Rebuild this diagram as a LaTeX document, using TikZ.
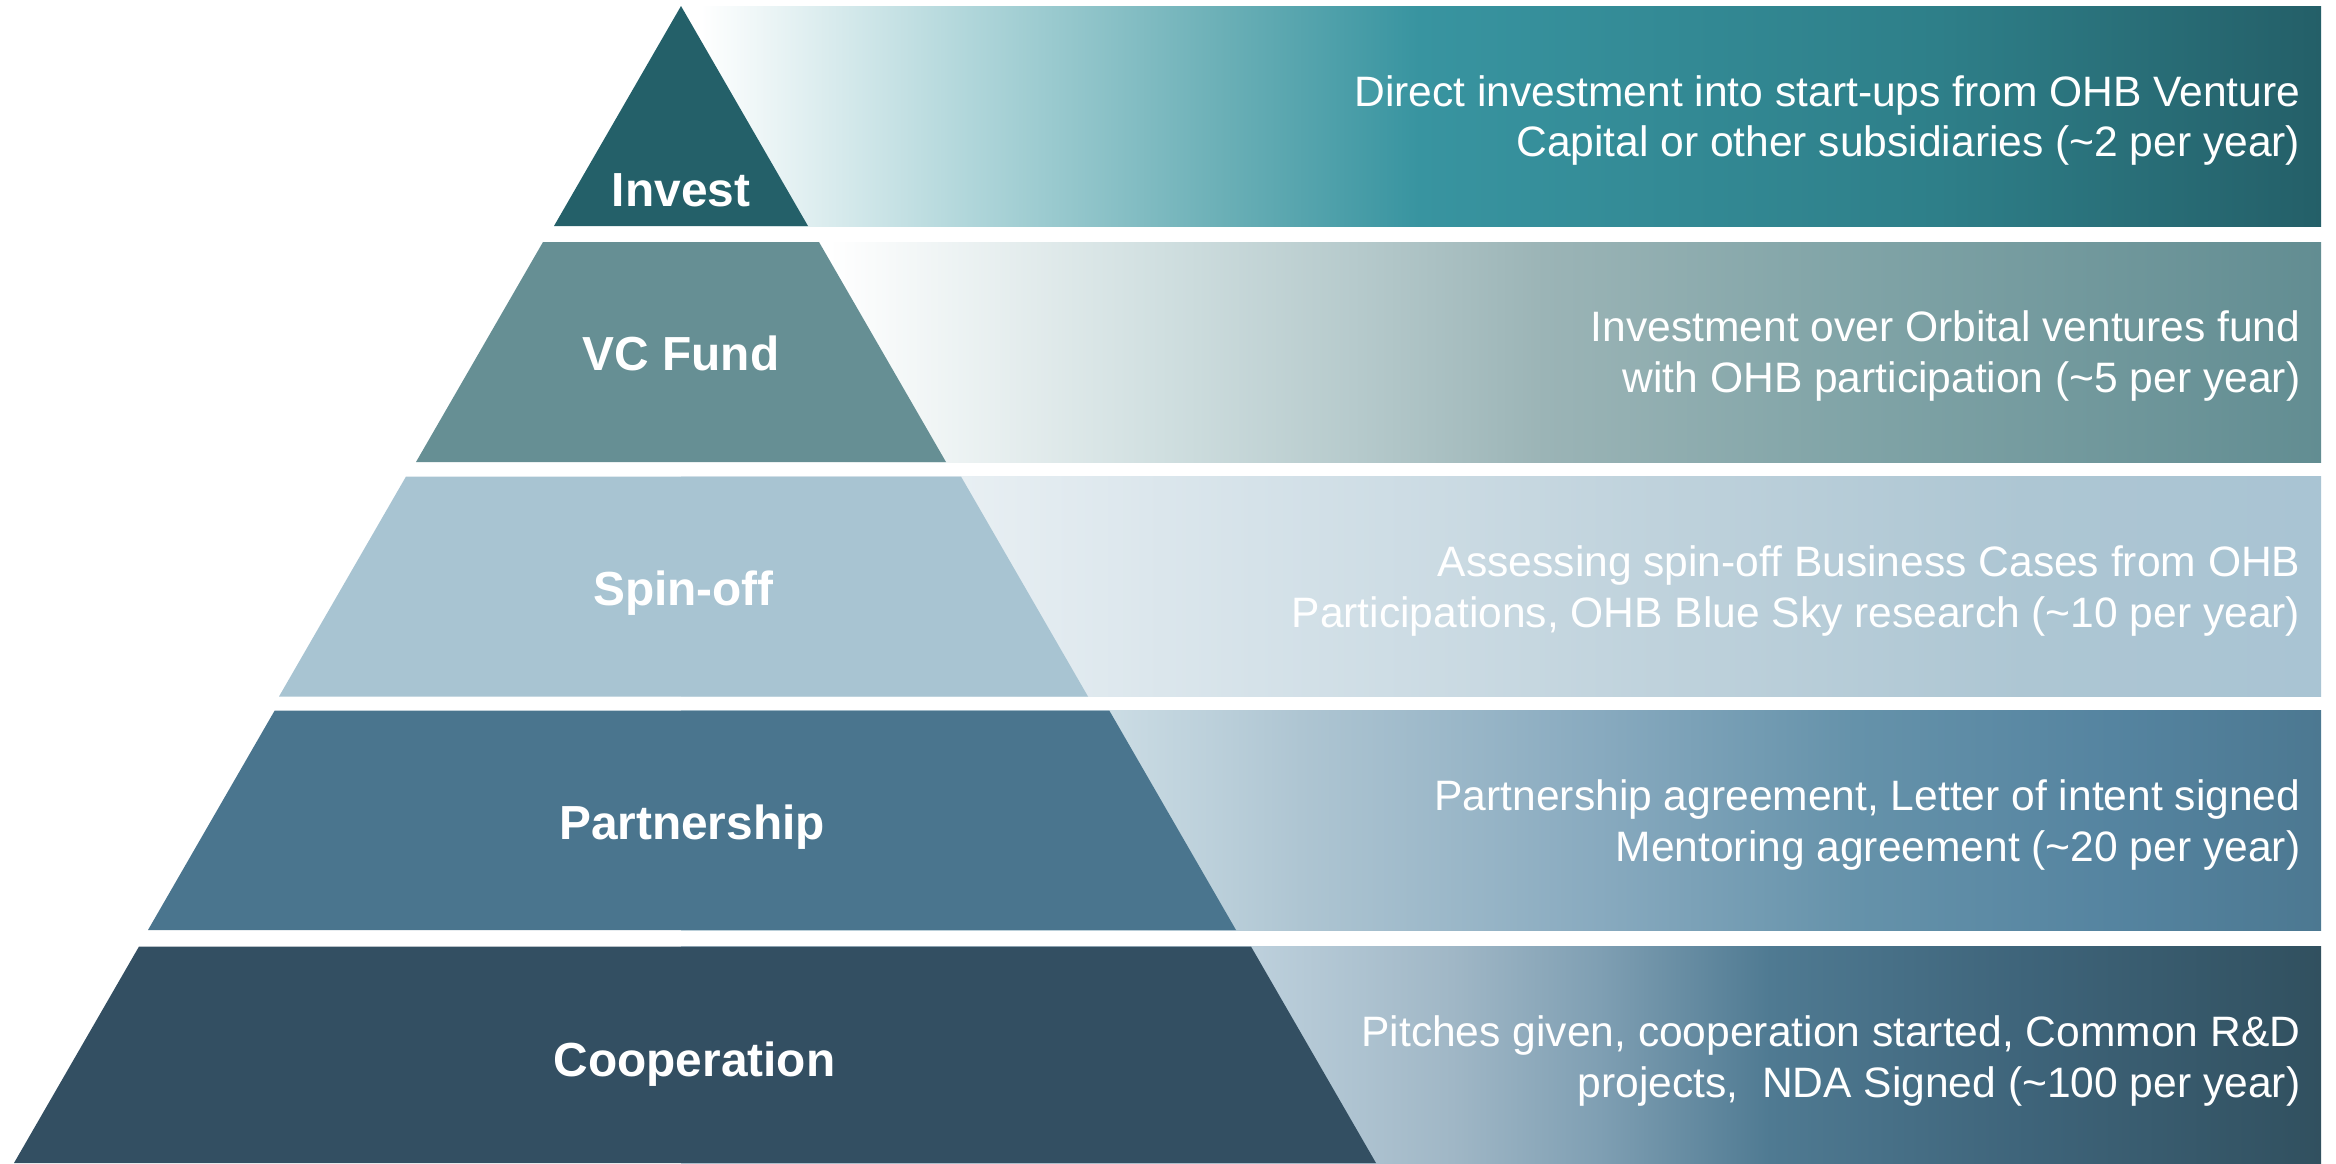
\documentclass[tikz,border=0pt]{standalone}
\usepackage{fontspec}
\setmainfont{Liberation Sans}
\newcommand{\mytilde}{\textasciitilde}
% pyramid colours
\definecolor{pA}{HTML}{246069}
\definecolor{pB}{HTML}{668F94}
\definecolor{pC}{HTML}{A8C4D2}
\definecolor{pD}{HTML}{4A758E}
\definecolor{pE}{HTML}{334F62}
% gradient stops
\definecolor{gA1}{HTML}{B0D6DA}
\definecolor{gA2}{HTML}{6AAFB6}
\definecolor{gA3}{HTML}{3894A0}
\definecolor{gA4}{HTML}{2E7F89}
\definecolor{gA5}{HTML}{245F68}
\definecolor{gB1}{HTML}{D0DFE0}
\definecolor{gB2}{HTML}{B6CACC}
\definecolor{gB3}{HTML}{9BB4B6}
\definecolor{gB4}{HTML}{82A5A8}
\definecolor{gB5}{HTML}{628D92}
\definecolor{gC0}{HTML}{E8EFF3}
\definecolor{gC1}{HTML}{D5E2E9}
\definecolor{gC2}{HTML}{BFD2DC}
\definecolor{gC3}{HTML}{ADC6D3}
\definecolor{gC4}{HTML}{A9C4D3}
\definecolor{gD0}{HTML}{CBDCE4}
\definecolor{gD1}{HTML}{AEC5D2}
\definecolor{gD2}{HTML}{88AABF}
\definecolor{gD3}{HTML}{6592AA}
\definecolor{gD4}{HTML}{5584A0}
\definecolor{gD5}{HTML}{4C7891}
\definecolor{gE0}{HTML}{BDD0DC}
\definecolor{gE1}{HTML}{A0B7C6}
\definecolor{gE2}{HTML}{7F9FB3}
\definecolor{gE3}{HTML}{4F7A92}
\definecolor{gE4}{HTML}{3E647A}
\definecolor{gE5}{HTML}{31505F}
% bp(x) = 25 + (x-681)/32.8 ; rectangles span x 681..2321
\pgfdeclarehorizontalshading{shA}{100bp}{color(0bp)=(white); color(25.6bp)=(white); color(33.8bp)=(gA1); color(41.6bp)=(gA2); color(47.5bp)=(gA3); color(63.3bp)=(gA4); color(75bp)=(gA5); color(100bp)=(gA5)}
\pgfdeclarehorizontalshading{shB}{100bp}{color(0bp)=(white); color(29.5bp)=(white); color(39.6bp)=(gB1); color(45.5bp)=(gB2); color(51.3bp)=(gB3); color(60bp)=(gB4); color(75bp)=(gB5); color(100bp)=(gB5)}
\pgfdeclarehorizontalshading{shC}{100bp}{color(0bp)=(gC0); color(33.5bp)=(gC0); color(42.5bp)=(gC1); color(54.8bp)=(gC2); color(66bp)=(gC3); color(75bp)=(gC4); color(100bp)=(gC4)}
\pgfdeclarehorizontalshading{shD}{100bp}{color(0bp)=(gD0); color(38.1bp)=(gD0); color(43.9bp)=(gD1); color(53bp)=(gD2); color(60.8bp)=(gD3); color(68.6bp)=(gD4); color(75bp)=(gD5); color(100bp)=(gD5)}
\pgfdeclarehorizontalshading{shE}{100bp}{color(0bp)=(gE0); color(42.4bp)=(gE0); color(48.5bp)=(gE1); color(53bp)=(gE2); color(58.2bp)=(gE3); color(66bp)=(gE4); color(75bp)=(gE5); color(100bp)=(gE5)}
\begin{document}
\begin{tikzpicture}[x=0.01cm,y=-0.01cm,
  lbl/.style={text=white, font=\fontsize{13.6}{16}\selectfont\bfseries, anchor=base, inner sep=0pt},
  desc/.style={text=white, font=\fontsize{12.1}{14.4}\selectfont, align=right, anchor=east, inner sep=0pt}]
\useasboundingbox (0,0) rectangle (2336,1163);
\fill[white] (0,0) rectangle (2336,1163);
% gradient bars
\shade[shading=shA] (681,6) rectangle (2321,226);
\shade[shading=shB] (681,242) rectangle (2321,462);
\shade[shading=shC] (681,476.5) rectangle (2321,696.5);
\shade[shading=shD] (681,710.5) rectangle (2321,930);
\shade[shading=shE] (681,946.5) rectangle (2321,1163);
% pyramid
\fill[pA] (681,6) -- (808,226) -- (554,226) -- cycle;
\fill[pB] (543,242) -- (819,242) -- (946,462) -- (416,462) -- cycle;
\fill[pC] (406,476.5) -- (961,476.5) -- (1088,696.5) -- (279,696.5) -- cycle;
\fill[pD] (274.7,710.5) -- (1109.3,710.5) -- (1236,930) -- (148,930) -- cycle;
\fill[pE] (139,946.5) -- (1251,946.5) -- (1376,1163) -- (14,1163) -- cycle;
% labels
\node[lbl] (invest) at (681,206) {Invest};
\node[lbl] (vcfund) at (681,370) {VC Fund};
\node[lbl] (spinoff) at (683.5,605) {Spin-off};
\node[lbl] (partner) at (692,839) {Partnership};
\node[lbl] (coop) at (694.5,1076) {Cooperation};
% descriptions
\node[desc] (dA) at (2301,120.5) {Direct investment into start-ups from OHB Venture\\Capital or other subsidiaries (\mytilde 2 per year)};
\node[desc] (dB) at (2301,356) {Investment over Orbital ventures fund\\with OHB participation (\mytilde 5 per year)};
\node[desc] (dC) at (2301,591) {Assessing spin-off Business Cases from OHB\\Participations, OHB Blue Sky research (\mytilde 10 per year)};
\node[desc] (dD) at (2301,825) {Partnership agreement, Letter of intent signed\\Mentoring agreement (\mytilde 20 per year)};
\node[desc] (dE) at (2301,1061) {Pitches given, cooperation started, Common R\&D\\projects,\ \ NDA Signed (\mytilde 100 per year)};
\end{tikzpicture}
\end{document}
